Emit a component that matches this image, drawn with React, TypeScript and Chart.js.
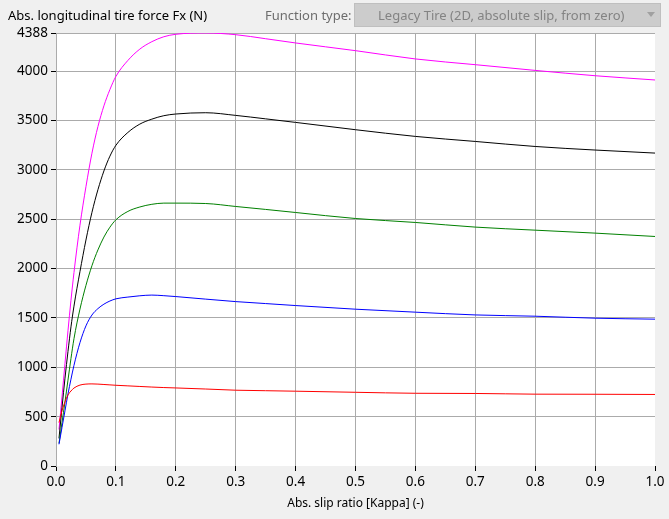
import React, { useEffect, useRef } from "react";
import { Chart, registerables } from "chart.js";

Chart.register(...registerables);

const kappa = [
  0.005, 0.01, 0.015, 0.02, 0.025, 0.03, 0.04, 0.05, 0.06, 0.07, 0.08, 0.09, 0.1,
  0.12, 0.14, 0.16, 0.18, 0.2, 0.25, 0.3, 0.35, 0.4, 0.5, 0.6, 0.7, 0.8, 0.9, 1.0,
];

const fxMagenta = [
  370, 700, 1040, 1370, 1680, 1960, 2440, 2830, 3170, 3440, 3650, 3815, 3948,
  4110, 4225, 4300, 4350, 4375, 4388, 4371, 4330, 4287, 4209, 4125, 4067, 4009, 3955, 3912,
];

const fxBlack = [
  280, 590, 890, 1160, 1410, 1620, 1970, 2290, 2570, 2800, 2990, 3140, 3250,
  3380, 3465, 3515, 3550, 3567, 3580, 3553, 3518, 3482, 3408, 3340, 3289, 3238, 3202, 3171,
];

const fxGreen = [
  230, 440, 650, 870, 1090, 1290, 1590, 1830, 2030, 2190, 2320, 2420, 2495,
  2580, 2625, 2652, 2664, 2664, 2660, 2630, 2600, 2569, 2508, 2468, 2421, 2390, 2360, 2326,
];

const fxBlue = [
  220, 390, 560, 730, 880, 1020, 1250, 1420, 1530, 1595, 1640, 1672, 1694,
  1712, 1725, 1732, 1726, 1717, 1691, 1666, 1646, 1626, 1589, 1559, 1531, 1518, 1498, 1488,
];

const fxRed = [
  440, 560, 650, 720, 760, 790, 820, 830, 832, 830, 826, 822, 818,
  812, 806, 800, 795, 791, 780, 768, 763, 758, 747, 737, 735, 728, 727, 725,
];

const yTicks = [0, 500, 1000, 1500, 2000, 2500, 3000, 3500, 4000, 4388];
const xTicks = [0, 0.1, 0.2, 0.3, 0.4, 0.5, 0.6, 0.7, 0.8, 0.9, 1.0];

const FONT = "'Noto Sans', sans-serif";
const GRID = "#ababab";

const plotBg = {
  id: "plotBg",
  beforeDraw(chart: any) {
    const { ctx, chartArea } = chart;
    ctx.save();
    ctx.fillStyle = "#ffffff";
    ctx.fillRect(chartArea.left, chartArea.top, chartArea.width, chartArea.height);
    ctx.restore();
  },
};

function series(values: number[]) {
  return kappa.map((k, i) => ({ x: k, y: values[i] }));
}

export default function App() {
  const ref = useRef<HTMLCanvasElement | null>(null);

  useEffect(() => {
    if (!ref.current) return;
    const mk = (label: string, data: number[], color: string) => ({
      label,
      data: series(data),
      borderColor: color,
      backgroundColor: color,
      borderWidth: 1,
      pointRadius: 0,
      cubicInterpolationMode: "monotone",
      fill: false,
    });
    const chart = new Chart(ref.current, {
      type: "line",
      data: {
        datasets: [
          mk("Red", fxRed, "#ff0000"),
          mk("Blue", fxBlue, "#0000ff"),
          mk("Green", fxGreen, "#008000"),
          mk("Black", fxBlack, "#000000"),
          mk("Magenta", fxMagenta, "#ff00ff"),
        ],
      },
      options: {
        animation: false,
        responsive: false,
        devicePixelRatio: 1,
        layout: { padding: { top: 33, right: 14, left: 0, bottom: 0 } },
        plugins: { legend: { display: false }, tooltip: { enabled: false } },
        scales: {
          x: {
            type: "linear",
            min: 0,
            max: 1,
            afterBuildTicks: (s: any) => {
              s.ticks = xTicks.map((v) => ({ value: v }));
            },
            afterFit: (s: any) => {
              s.height = 53;
            },
            ticks: {
              autoSkip: false,
              maxRotation: 0,
              padding: 3,
              color: "#000",
              font: { family: FONT, size: 13.5 },
              callback: (v: any) => Number(v).toFixed(1),
            },
            grid: {
              color: (c: any) =>
                c.tick && c.tick.value > 0.99 ? "rgba(0,0,0,0)" : GRID,
              tickColor: "#000",
              tickLength: 5,
              lineWidth: 1,
            },
            border: { display: false },
            title: {
              display: true,
              text: "Abs. slip ratio [Kappa] (-)",
              color: "#000",
              font: { family: FONT, size: 12 },
              padding: { top: 0, bottom: 8 },
            },
          },
          y: {
            type: "linear",
            min: 0,
            max: 4388,
            afterBuildTicks: (s: any) => {
              s.ticks = yTicks.map((v) => ({ value: v }));
            },
            afterFit: (s: any) => {
              s.width = 56;
            },
            ticks: {
              autoSkip: false,
              padding: 3,
              color: "#000",
              font: { family: FONT, size: 13.5 },
              callback: (v: any) => String(v),
            },
            grid: {
              color: (c: any) =>
                c.tick && c.tick.value === 0 ? "rgba(0,0,0,0)" : GRID,
              tickColor: "#000",
              tickLength: 5,
              lineWidth: 1,
            },
            border: { display: true, color: GRID },
          },
        },
      },
      plugins: [plotBg],
    } as any);
    return () => chart.destroy();
  }, []);

  return (
    <div
      style={{
        position: "fixed",
        left: 0,
        top: 0,
        width: 669,
        height: 519,
        background: "#f0f0f0",
        overflow: "hidden",
        fontFamily: FONT,
      }}
    >
      <canvas ref={ref} width={669} height={519} style={{ position: "absolute", left: 0, top: 0, width: 669, height: 519 }} />
      <div style={{ position: "absolute", left: 8, top: 6, fontSize: 13, lineHeight: "18px", color: "#000", whiteSpace: "nowrap" }}>
        Abs. longitudinal tire force Fx (N)
      </div>
      <div style={{ position: "absolute", left: 265, top: 6, fontSize: 13, lineHeight: "18px", color: "#6d6d6d", whiteSpace: "nowrap" }}>
        Function type:
      </div>
      <div
        style={{
          position: "absolute",
          left: 354,
          top: 3,
          width: 305,
          height: 22,
          background: "#cccccc",
          border: "1px solid #bfbfbf",
        }}
      >
        <div style={{ position: "absolute", left: 23, top: 2, fontSize: 13, lineHeight: "18px", color: "#838383", whiteSpace: "nowrap" }}>
          Legacy Tire (2D, absolute slip, from zero)
        </div>
        <div
          style={{
            position: "absolute",
            right: 5,
            top: 8,
            width: 0,
            height: 0,
            borderLeft: "4px solid transparent",
            borderRight: "4px solid transparent",
            borderTop: "5px solid #a0a0a0",
          }}
        />
      </div>
    </div>
  );
}
